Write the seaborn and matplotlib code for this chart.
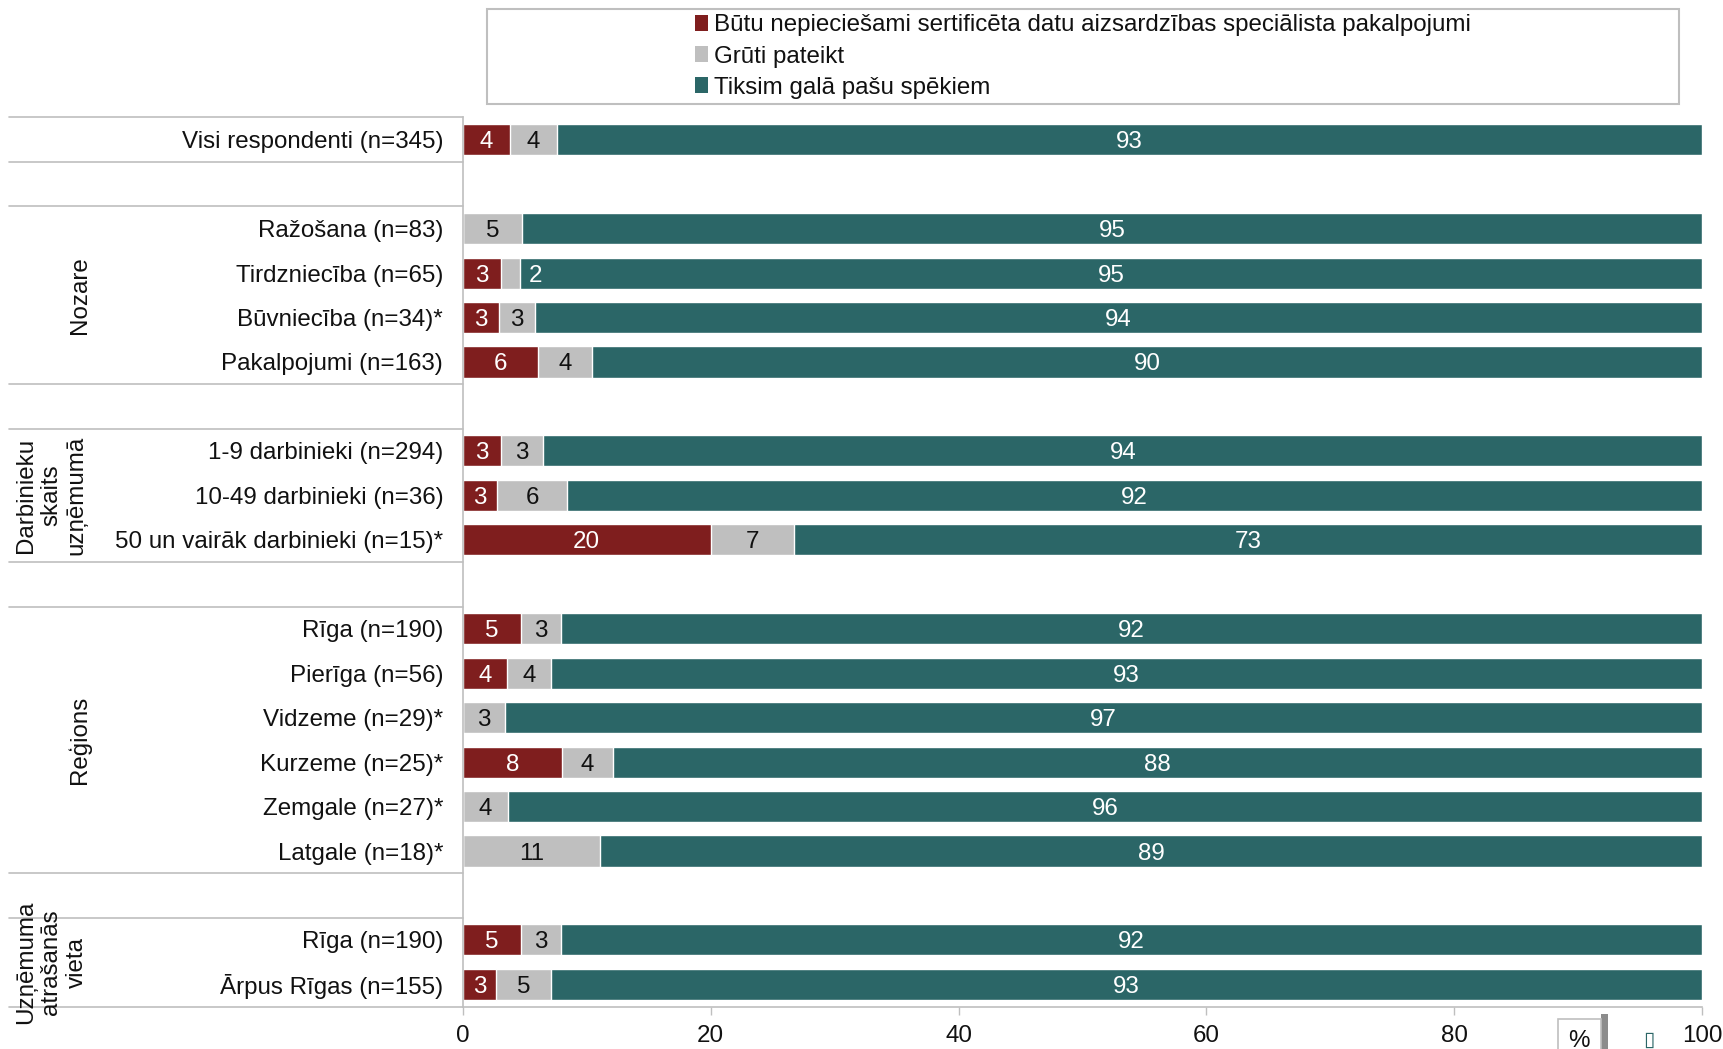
import numpy as np
import pandas as pd
import seaborn as sns
import matplotlib.pyplot as plt
from matplotlib.patches import Patch, Rectangle
import matplotlib.transforms as mtransforms

# series names (legend)
series = ["Būtu nepieciešami sertificēta datu aizsardzības speciālista pakalpojumi",
          "Grūti pateikt",
          "Tiksim galā pašu spēkiem"]

# groups of respondents
group_names = ["", "Nozare", "Darbinieku\nskaits\nuzņēmumā", "Reģions",
               "Uzņēmuma\natrašanās\nvieta"]
group_rows = [
    ["Visi respondenti (n=345)"],
    ["Ražošana (n=83)", "Tirdzniecība (n=65)", "Būvniecība (n=34)*", "Pakalpojumi (n=163)"],
    ["1-9 darbinieki (n=294)", "10-49 darbinieki (n=36)", "50 un vairāk darbinieki (n=15)*"],
    ["Rīga (n=190)", "Pierīga (n=56)", "Vidzeme (n=29)*", "Kurzeme (n=25)*",
     "Zemgale (n=27)*", "Latgale (n=18)*"],
    ["Rīga (n=190)", "Ārpus Rīgas (n=155)"],
]

# segment widths (%)
need = [3.8, 0, 3.1, 2.9, 6.1, 3.1, 2.8, 20.0, 4.7, 3.6, 0, 8.0, 0, 0, 4.7, 2.7]
hard = [3.8, 4.8, 1.5, 2.9, 4.3, 3.4, 5.6, 6.7, 3.2, 3.5, 3.4, 4.1, 3.7, 11.1, 3.2, 4.4]
own = [92.4, 95.2, 95.4, 94.2, 89.6, 93.5, 91.6, 73.3, 92.1, 92.9, 96.6, 87.9, 96.3, 88.9, 92.1, 92.9]

# printed labels (rounded)
need_lbl = [4, None, 3, 3, 6, 3, 3, 20, 5, 4, None, 8, None, None, 5, 3]
hard_lbl = [4, 5, 2, 3, 4, 3, 6, 7, 3, 4, 3, 4, 4, 11, 3, 5]
own_lbl = [93, 95, 95, 94, 90, 94, 92, 73, 92, 93, 97, 88, 96, 89, 92, 93]

c_red, c_gray, c_teal = "#7F1E1E", "#BFBFBF", "#2B6667"
line_c = "#BFBFBF"
txt_c = "#111111"

# build row order with empty spacer rows between groups
row_ids, row_labels, data_pos = [], [], []
k = 0
for gi, rows in enumerate(group_rows):
    if gi > 0:
        row_ids.append(f"gap{gi}")
        row_labels.append("")
    for r in rows:
        data_pos.append(len(row_ids))
        row_ids.append(f"r{k}")
        row_labels.append(r)
        k += 1

df = pd.DataFrame({
    "row": [f"r{i}" for i in range(len(need))],
    "need": need, "hard": hard, "own": own,
})
df["need_hard"] = df["need"] + df["hard"]
df["total"] = df["need_hard"] + df["own"]

sns.set_theme(style="white")
plt.rcParams["font.family"] = ["Liberation Sans", "DejaVu Sans"]

fig = plt.figure(figsize=(17.23, 10.49), dpi=100)
ax = fig.add_axes([0.2685, 0.0404, 0.7195, 0.8476])

fs = 17.4
sns.barplot(data=df, x="total", y="row", order=row_ids, color=c_teal,
            orient="h", width=0.7, saturation=1, ax=ax)
sns.barplot(data=df, x="need_hard", y="row", order=row_ids, color=c_gray,
            orient="h", width=0.7, saturation=1, ax=ax)
sns.barplot(data=df, x="need", y="row", order=row_ids, color=c_red,
            orient="h", width=0.7, saturation=1, ax=ax)

# value labels
for i, p in enumerate(data_pos):
    if need_lbl[i] is not None:
        ax.text(need[i] / 2, p, str(need_lbl[i]), ha="center",
                va="center_baseline", color="white", fontsize=fs)
    if hard[i] < 2:
        ax.text(need[i] + hard[i] + 1.3, p, str(hard_lbl[i]), ha="center",
                va="center_baseline", color="white", fontsize=fs)
    else:
        ax.text(need[i] + hard[i] / 2, p, str(hard_lbl[i]), ha="center",
                va="center_baseline", color=txt_c, fontsize=fs)
    ax.text(need[i] + hard[i] + own[i] / 2, p, str(own_lbl[i]), ha="center",
            va="center_baseline", color="white", fontsize=fs)

ax.set_xlim(0, 100)
ax.set_ylim(len(row_ids) - 0.5, -0.5)
ax.set_xticks(np.arange(0, 101, 20))
ax.set_yticks(range(len(row_ids)), row_labels)
ax.set_xlabel("")
ax.set_ylabel("")
ax.tick_params(axis="y", length=0, pad=14, labelsize=fs, colors=txt_c)
ax.tick_params(axis="x", length=6, width=1, color=line_c, pad=7,
               labelsize=fs, labelcolor=txt_c, bottom=True)
for s in ["top", "right"]:
    ax.spines[s].set_visible(False)
for s in ["left", "bottom"]:
    ax.spines[s].set_color(line_c)
    ax.spines[s].set_linewidth(1.2)

# group separator lines and group titles
trans = mtransforms.blended_transform_factory(ax.transAxes, ax.transData)
x_left = -0.366
start = 0
bounds = []
for gi, rows in enumerate(group_rows):
    if gi > 0:
        start += 1
    top = start - 0.5
    bot = start + len(rows) - 0.5
    bounds += [top, bot]
    if group_names[gi]:
        xg = -0.309 if "\n" not in group_names[gi] else -0.332
        ax.text(xg, (top + bot) / 2, group_names[gi], transform=trans,
                rotation=90, ha="center", va="center", fontsize=fs,
                color=txt_c, linespacing=1.2, clip_on=False)
    start += len(rows)
for b in bounds:
    ax.plot([x_left, 0], [b, b], transform=trans, color=line_c, lw=1.2,
            clip_on=False)

# legend with its own frame
fig.patches.append(Rectangle((0.2825, 0.9005), 0.692, 0.0911,
                             transform=fig.transFigure, fill=False,
                             edgecolor=line_c, lw=1.5))
handles = [Patch(facecolor=c, edgecolor="none") for c in (c_red, c_gray, c_teal)]
fig.legend(handles, series, loc="center", bbox_to_anchor=(0.6285, 0.946),
           frameon=False, fontsize=fs, handlelength=0.55, handleheight=0.65,
           handletextpad=0.25, labelspacing=0.38, labelcolor=txt_c)

# unit box at bottom
fig.patches.append(Rectangle((0.9292, 0.0), 0.004, 0.033,
                             transform=fig.transFigure, facecolor="#8c8c8c",
                             edgecolor="none"))
fig.text(0.9165, 0.0075, "%", ha="center", va="center", fontsize=fs,
         color=txt_c,
         bbox=dict(boxstyle="square,pad=0.45", facecolor="white",
                   edgecolor=line_c, lw=1.2))
fig.text(0.957, 0.009, "\u25af", ha="center", va="center", fontsize=15,
         color=c_teal, family="DejaVu Sans")

fig.savefig("out.png", dpi=100)
